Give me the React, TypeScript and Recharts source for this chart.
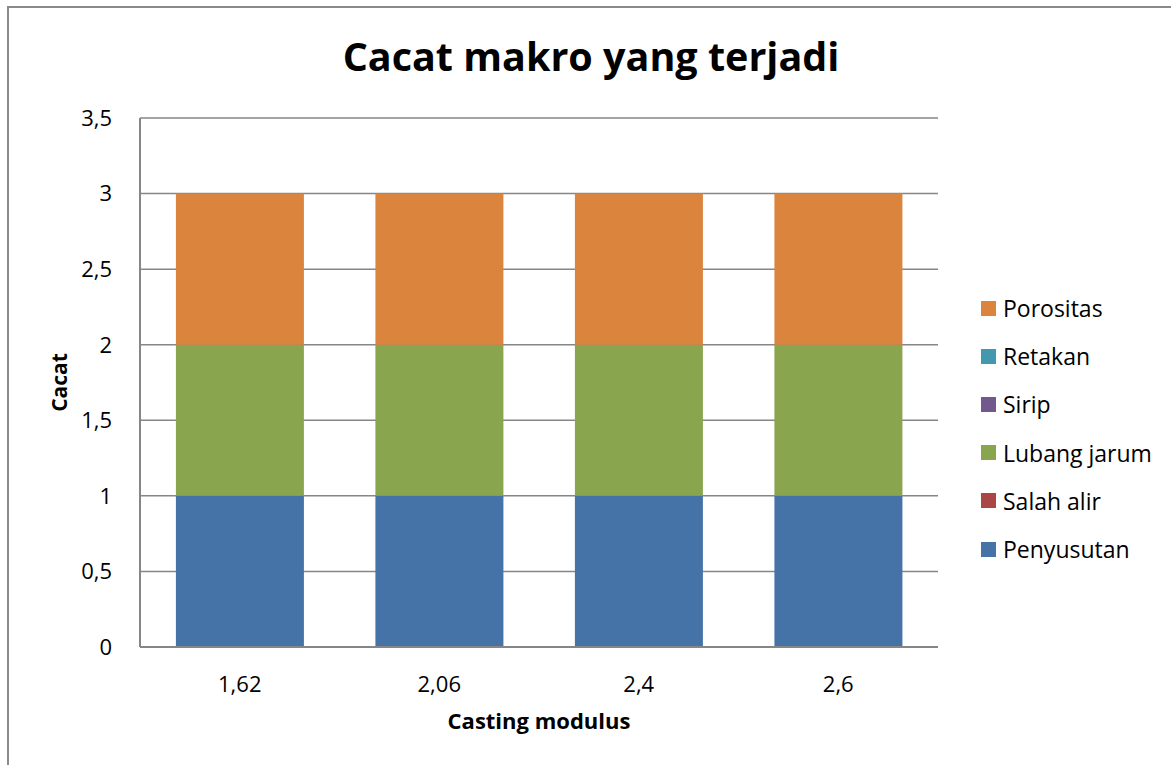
import React from 'react';
import { BarChart, Bar, XAxis, YAxis, CartesianGrid } from 'recharts';

const categories = ['1,62', '2,06', '2,4', '2,6'];
const penyusutan = [1, 1, 1, 1];
const salahAlir = [0, 0, 0, 0];
const lubangJarum = [1, 1, 1, 1];
const sirip = [0, 0, 0, 0];
const retakan = [0, 0, 0, 0];
const porositas = [1, 1, 1, 1];
const yTicks = [0, 0.5, 1, 1.5, 2, 2.5, 3, 3.5];

const series = [
  { key: 'penyusutan', name: 'Penyusutan', color: '#4572A7', values: penyusutan },
  { key: 'salahAlir', name: 'Salah alir', color: '#AA4643', values: salahAlir },
  { key: 'lubangJarum', name: 'Lubang jarum', color: '#89A54E', values: lubangJarum },
  { key: 'sirip', name: 'Sirip', color: '#71588F', values: sirip },
  { key: 'retakan', name: 'Retakan', color: '#4198AF', values: retakan },
  { key: 'porositas', name: 'Porositas', color: '#DB843D', values: porositas },
];

const data = categories.map((c, i) => {
  const row: any = { cat: c };
  series.forEach((s) => (row[s.key] = s.values[i]));
  return row;
});

const FONT = '"Open Sans", Lato, sans-serif';

export default function App() {
  return (
    <div style={{ position: 'absolute', left: 0, top: 0, width: 1171, height: 765, background: '#fff', fontFamily: FONT, overflow: 'hidden' }}>
      <div style={{ position: 'absolute', left: 7, top: 6, right: -10, bottom: -10, borderLeft: '2px solid #8a8a8a', borderTop: '2px solid #8a8a8a' }} />
      <div style={{ position: 'absolute', left: 0, width: 1182, top: 29, textAlign: 'center', fontSize: 39.5, fontWeight: 'bold', color: '#000' }}>
        Cacat makro yang terjadi
      </div>
      <BarChart
        width={1171}
        height={765}
        data={data}
        margin={{ top: 118, right: 233, bottom: 88, left: 60 }}
        barCategoryGap="18%"
        style={{ position: 'absolute', left: 0, top: 0 }}
      >
        <CartesianGrid vertical={false} stroke="#868686" strokeWidth={1.5} />
        <XAxis
          dataKey="cat"
          height={30}
          axisLine={{ stroke: '#868686', strokeWidth: 2 }}
          tickLine={false}
          tick={{ fill: '#000', fontSize: 22, fontFamily: FONT }}
          tickMargin={23}
          label={{ value: 'Casting modulus', position: 'insideBottom', offset: -52, fill: '#000', fontSize: 22, fontWeight: 'bold', fontFamily: FONT }}
        />
        <YAxis
          width={80}
          domain={[0, 3.5]}
          ticks={yTicks}
          interval={0}
          axisLine={{ stroke: '#868686', strokeWidth: 2 }}
          tickLine={false}
          tick={{ fill: '#000', fontSize: 22, fontFamily: FONT }}
          tickMargin={22}
          tickFormatter={(v: number) => String(v).replace('.', ',')}
          label={{ value: 'Cacat', angle: -90, position: 'insideLeft', offset: 0, fill: '#000', fontSize: 21, fontWeight: 'bold', fontFamily: FONT, style: { textAnchor: 'middle' } }}
        />
        {series.map((s) => (
          <Bar key={s.key} dataKey={s.key} name={s.name} stackId="a" fill={s.color} isAnimationActive={false} />
        ))}
      </BarChart>
      <div style={{ position: 'absolute', left: 981, top: 284 }}>
        {[...series].reverse().map((s) => (
          <div key={s.key} style={{ display: 'flex', alignItems: 'center', height: 48.2, fontSize: 23, color: '#000' }}>
            <span style={{ display: 'inline-block', width: 15, height: 15, background: s.color, marginRight: 7 }} />
            <span>{s.name}</span>
          </div>
        ))}
      </div>
    </div>
  );
}
